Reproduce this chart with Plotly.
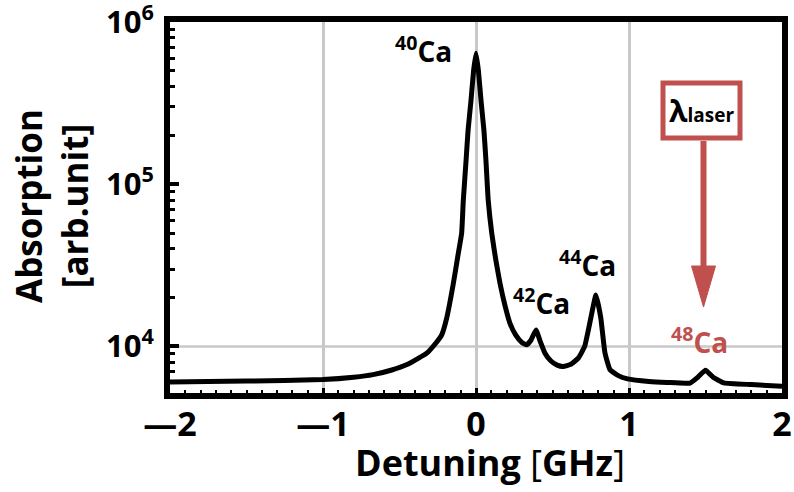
import plotly.graph_objects as go

# ---- data ----
detuning = [-2.0, -1.5, -1.0, -0.8, -0.673, -0.55, -0.451, -0.38, -0.32, -0.27,
            -0.224, -0.192, -0.148, -0.116, -0.094, -0.083, -0.065, -0.052, -0.033, -0.016,
            0.0,
            0.016, 0.033, 0.052, 0.065, 0.08, 0.103, 0.13, 0.157, 0.19, 0.222,
            0.26, 0.30, 0.331, 0.36, 0.392, 0.42, 0.45, 0.49, 0.53, 0.57,
            0.62, 0.67, 0.71, 0.745, 0.784, 0.815, 0.843, 0.876, 0.93, 0.99,
            1.13, 1.25, 1.40, 1.45, 1.50, 1.55, 1.62, 1.80, 2.0]
absorption = [6030, 6120, 6250, 6460, 6700, 7160, 7730, 8410, 9120, 10280,
              11800, 14900, 24500, 37400, 49700, 79400, 140000, 213800, 326600, 498900,
              642700,
              498900, 326600, 213800, 140000, 79400, 49900, 33900, 24500, 17800, 13900,
              11750, 10590, 10230, 10960, 12650, 10720, 9120, 8130, 7670, 7530,
              7760, 8510, 10000, 14130, 20750, 15140, 9120, 7190, 6610, 6310,
              6080, 6000, 5950, 6460, 7130, 6460, 5960, 5820, 5690]

x_tickvals = [-2, -1, 0, 1, 2]
x_ticktext = ["\u20142", "\u20141", "0", "1", "2"]
y_tickvals = [1e4, 1e5, 1e6]
y_ticktext = ["10<sup>4</sup>", "10<sup>5</sup>", "10<sup>6</sup>"]
y_minor = [m * 10 ** e for e in (3, 4, 5) for m in range(2, 10)]

peak_labels = ["<sup>40</sup>Ca", "<sup>42</sup>Ca", "<sup>44</sup>Ca", "<sup>48</sup>Ca"]

RED = "#c0504d"
FONT = "Open Sans, Noto Sans CJK JP"

W, H = 794, 492
L, R, T, B = 170, 12, 22, 99
PW, PH = W - L - R, H - T - B


def px(xp):
    return (xp - L) / PW


def py(yp):
    return (H - B - yp) / PH


fig = go.Figure()
fig.add_trace(go.Scatter(
    x=detuning, y=absorption, mode="lines",
    line=dict(color="black", width=5, shape="spline", smoothing=0.4),
    hoverinfo="skip",
))

fig.update_layout(
    width=W, height=H,
    margin=dict(l=L, r=R, t=T, b=B, pad=0, autoexpand=False),
    plot_bgcolor="white", paper_bgcolor="white",
    showlegend=False,
    font=dict(family=FONT, color="black"),
)

fig.update_xaxes(
    range=[-2, 2], tickmode="array", tickvals=x_tickvals, ticktext=x_ticktext,
    tickfont=dict(family=FONT, size=34, color="black", weight=700),
    ticks="inside", ticklen=5, tickwidth=3, tickcolor="black",
    showline=True, linewidth=6, linecolor="black", mirror=True,
    showgrid=True, gridcolor="#c8c8c8", gridwidth=2.5, zeroline=False,
    minor=dict(ticks="inside", ticklen=3, tickwidth=2, tickcolor="black",
               dtick=0.1, tick0=0, showgrid=False),
    ticklabelstandoff=-4, automargin=False, ticklabeloverflow="allow",
)
fig.update_yaxes(
    type="log", range=[3.713, 6.001], tickmode="array",
    tickvals=y_tickvals, ticktext=y_ticktext,
    tickfont=dict(family=FONT, size=31, color="black", weight=700),
    ticks="inside", ticklen=9, tickwidth=3.5, tickcolor="black",
    showline=True, linewidth=6, linecolor="black", mirror=True,
    showgrid=False, zeroline=False,
    minor=dict(ticks="inside", ticklen=5, tickwidth=3, tickcolor="black",
               tickmode="array", tickvals=y_minor, showgrid=False),
    ticklabelstandoff=4, automargin=False, ticklabeloverflow="allow",
)

# horizontal grid line at 10^4 only
fig.add_shape(type="line", xref="paper", x0=0, x1=1, yref="y", y0=1e4, y1=1e4,
              line=dict(color="#c8c8c8", width=2.5), layer="below")

# laser box and arrow
fig.add_shape(type="rect", xref="paper", yref="paper",
              x0=px(663), x1=px(740), y0=py(138), y1=py(83),
              line=dict(color=RED, width=5), fillcolor="white")
fig.add_shape(type="line", xref="paper", yref="paper",
              x0=px(703.5), x1=px(703.5), y0=py(141), y1=py(272),
              line=dict(color=RED, width=6))
fig.add_shape(type="path", xref="paper", yref="paper",
              path=f"M {px(691.5)} {py(266)} L {px(715.5)} {py(266)} L {px(703.5)} {py(307)} Z",
              fillcolor=RED, line=dict(color=RED, width=1))

label_pos = [(423, 50), (541, 301), (587, 263), (699, 340)]
label_col = ["black", "black", "black", RED]
for txt, (xp, yp), col in zip(peak_labels, label_pos, label_col):
    fig.add_annotation(text=txt, xref="paper", yref="paper", x=px(xp), y=py(yp),
                       showarrow=False, xanchor="center", yanchor="middle",
                       font=dict(family=FONT, size=28, color=col, weight=700))

fig.add_annotation(text="\u03bb<span style='font-size:19px'>laser</span>",
                   xref="paper", yref="paper", x=px(701), y=py(111),
                   showarrow=False, xanchor="center", yanchor="middle",
                   font=dict(family=FONT, size=30, color="black", weight=700))

# axis titles
fig.add_annotation(
    text="Detuning <span style='font-weight:400'>[</span>GHz<span style='font-weight:400'>]</span>",
    xref="paper", yref="paper",
    x=px(490), y=py(462), showarrow=False,
    xanchor="center", yanchor="middle",
    font=dict(family=FONT, size=36, color="black", weight=700))
fig.add_annotation(text="Absorption<br>[arb.unit]", xref="paper", yref="paper",
                   x=px(51), y=py(206), showarrow=False, textangle=-90,
                   xanchor="center", yanchor="middle",
                   font=dict(family=FONT, size=35, color="black", weight=700))

fig.write_html("out.html")
